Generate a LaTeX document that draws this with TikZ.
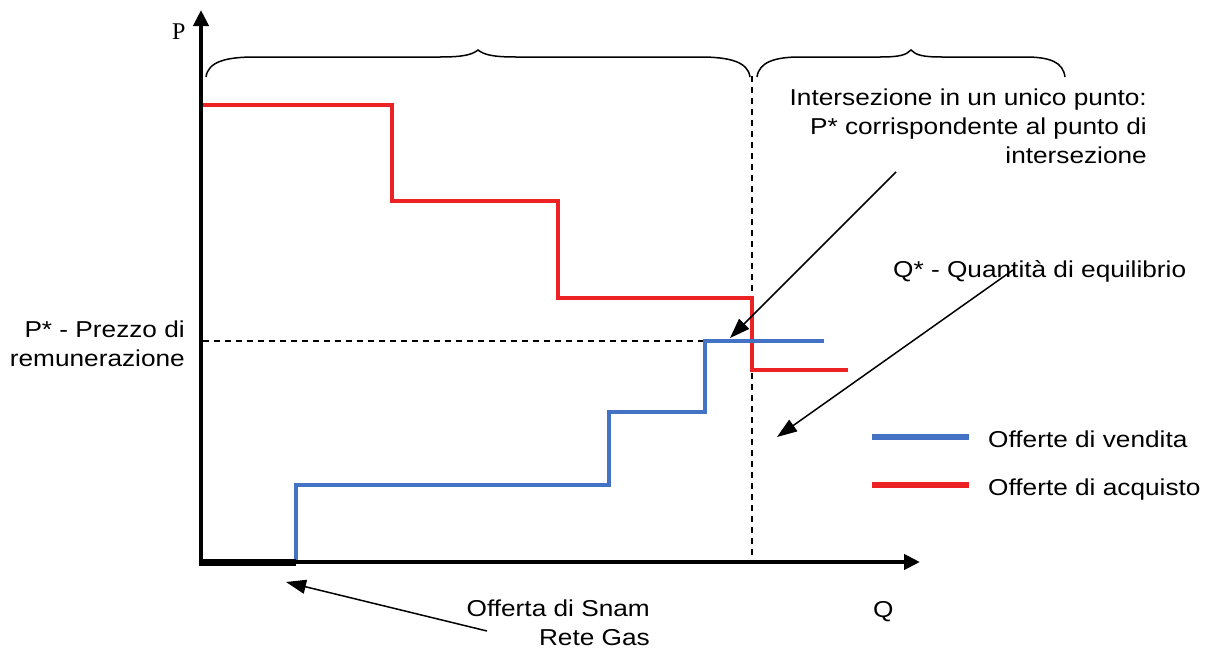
\documentclass[tikz,border=0pt]{standalone}
\usepackage{fontspec}
\setmainfont{Liberation Sans}[FakeStretch=1.14]
\newfontfamily\serifP{Liberation Serif}
\usetikzlibrary{arrows.meta}
\definecolor{offblue}{RGB}{68,114,196}
\definecolor{offred}{RGB}{237,34,36}
\begin{document}
\begin{tikzpicture}[x=1pt,y=-1pt,
  axisline/.style={line width=4pt,-{Triangle[length=16pt,width=15pt]}},
  blueline/.style={offblue,line width=4pt},
  redline/.style={offred,line width=4pt},
  legline/.style={line width=6pt},
  dashline/.style={line width=1.3pt,dash pattern=on 6pt off 5pt},
  pointer/.style={line width=1.5pt,-{Triangle[length=20pt,width=14pt]}},
  bracestyle/.style={line width=1.5pt},
  lbl/.style={inner sep=0pt,font=\fontsize{23}{28.7}\selectfont},
]
\useasboundingbox (0,0) rectangle (1207,648);
% braces
\draw[bracestyle] (206,77) .. controls (208,62) and (225,57) .. (255,57) -- (440,57)
  .. controls (462,57) and (472,55) .. (478,50) .. controls (484,55) and (494,57) .. (516,57)
  -- (700,57) .. controls (730,57) and (748,62) .. (750,77);
\draw[bracestyle] (757,77) .. controls (759,62) and (775,57) .. (800,57) -- (880,57)
  .. controls (900,57) and (906,55) .. (911,50) .. controls (916,55) and (922,57) .. (942,57)
  -- (1025,57) .. controls (1050,57) and (1063,62) .. (1065,77);
% dashed guides
\draw[dashline] (203,341) -- (705,341);
\draw[dashline] (752,76) -- (752,560);
% curves
\draw[redline] (201,105) -| (392,201) -| (558,298) -| (752,370) -- (848,370);
\draw[blueline] (296,562) |- (609,485) |- (705,412) |- (824,341);
% axes
\draw[axisline] (201,562) -- (201,10);
\draw[axisline] (199,562) -- (920,562);
\draw[line width=7pt] (199,562) -- (296,562);
% labels
\node[inner sep=0pt,anchor=base west,font=\serifP\fontsize{24}{24}\selectfont] (plbl) at (172,39) {P};
\node[lbl,anchor=base west] (qlbl) at (873,617) {Q};
\node[lbl,anchor=base east,align=right] (inter) at (1147,163) {Intersezione in un unico punto:\\P* corrispondente al punto di\\intersezione};
\node[lbl,anchor=base west] (qstar) at (893,277) {Q* - Quantità di equilibrio};
\node[lbl,anchor=base east,align=right] (pstar) at (185,366) {P* - Prezzo di\\remunerazione};
\node[lbl,anchor=base east,align=right] (snam) at (650,645) {Offerta di Snam\\Rete Gas};
% pointers
\coordinate (a1s) at (896,172); \coordinate (a1e) at (730,338);
\coordinate (a2s) at (1013,270); \coordinate (a2e) at (777,437);
\coordinate (a3s) at (487,631); \coordinate (a3e) at (286,582);
\draw[pointer] (a1s) -- (a1e);
\draw[pointer] (a2s) -- (a2e);
\draw[pointer] (a3s) -- (a3e);
% legend
\coordinate (lb1) at (872,437); \coordinate (lb2) at (969,437);
\coordinate (lr1) at (872,485); \coordinate (lr2) at (969,485);
\draw[legline,offblue] (lb1) -- (lb2);
\draw[legline,offred] (lr1) -- (lr2);
\node[lbl,anchor=base west] (legb) at (988,447) {Offerte di vendita};
\node[lbl,anchor=base west] (legr) at (988,495) {Offerte di acquisto};
\end{tikzpicture}
\end{document}
